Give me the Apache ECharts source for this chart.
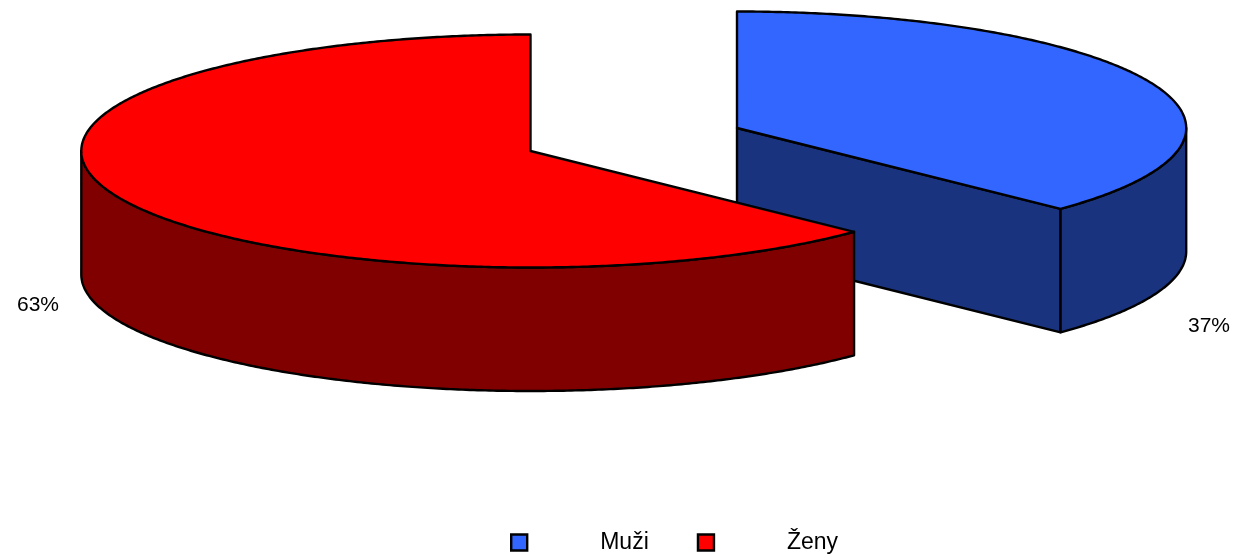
<!DOCTYPE html>
<html>
<head>
<meta charset="utf-8">
<style>html,body{margin:0;padding:0;background:#fff}#c{width:1238px;height:556px}</style>
<script src="https://cdn.jsdelivr.net/npm/echarts@6/dist/echarts.min.js"></script>
</head>
<body>
<div id="c"></div>
<script>
const categories = ['Muži', 'Ženy'];
const values = [37.2, 62.8];
const topColors = ['#3366FF', '#FF0000'];
const sideColors = ['#19337F', '#800000'];
const centers = [[737, 128], [530.5, 151]];
const labelAnchors = [[1209, 326], [38, 305]];
const RX = 449.2, RY = 116.5, DEPTH = 123.5;
const FONT = '"Liberation Sans", Arial, sans-serif';
const total = values.reduce((a, b) => a + b, 0);

function makeRender(idx) {
  const before = values.slice(0, idx).reduce((a, b) => a + b, 0);
  const a0 = before / total * 360;
  const a1 = (before + values[idx]) / total * 360;
  const [cx, cy] = centers[idx];
  const pt = (t, dz) => {
    const r = t * Math.PI / 180;
    return [cx + RX * Math.sin(r), cy - RY * Math.cos(r) + (dz || 0)];
  };
  const arc = (from, to, dz) => {
    const pts = [];
    const n = Math.max(2, Math.ceil(Math.abs(to - from) * 2));
    for (let i = 0; i <= n; i++) pts.push(pt(from + (to - from) * i / n, dz));
    return pts;
  };
  const base = { stroke: '#000', lineWidth: 2.4, lineJoin: 'round' };
  const poly = (points, fill) => ({
    type: 'polygon', shape: { points }, style: Object.assign({ fill }, base)
  });
  return function () {
    const children = [];
    const side = sideColors[idx];
    const faceVisible = t => Math.cos(t * Math.PI / 180) < -1e-6;
    const cut = (t) => {
      const p = pt(t);
      children.push(poly([[cx, cy], p, [p[0], p[1] + DEPTH], [cx, cy + DEPTH]], side));
    };
    if (faceVisible(a0 - 90)) cut(a0);
    if (faceVisible(a1 + 90)) cut(a1);
    const s = Math.max(a0, 90), e = Math.min(a1, 270);
    if (e > s) {
      children.push(poly(arc(s, e, 0).concat(arc(e, s, DEPTH)), side));
    }
    children.push(poly([[cx, cy]].concat(arc(a0, a1, 0)), topColors[idx]));
    children.push({
      type: 'text',
      style: {
        x: labelAnchors[idx][0], y: labelAnchors[idx][1],
        text: Math.round(values[idx]) + '%', fill: '#000',
        font: '21px ' + FONT, textAlign: 'center', textVerticalAlign: 'middle'
      }
    });
    return { type: 'group', children };
  };
}

const chart = echarts.init(document.getElementById('c'), null, { renderer: 'canvas' });
chart.setOption({
  animation: false,
  backgroundColor: '#fff',
  legend: {
    left: 510, top: 531,
    padding: 0,
    itemWidth: 16, itemHeight: 16,
    itemGap: 48,
    icon: 'rect',
    selectedMode: false,
    data: categories,
    textStyle: { color: '#000', fontSize: 23, fontFamily: FONT, padding: [4, 0, 0, 68] },
    itemStyle: { borderColor: '#000', borderWidth: 2.4 }
  },
  series: categories.map((name, i) => ({
    type: 'custom',
    name,
    coordinateSystem: 'none',
    silent: true,
    itemStyle: { color: topColors[i], borderColor: '#000', borderWidth: 2.4 },
    data: [values[i]],
    renderItem: makeRender(i),
    z: i + 1
  }))
});
</script>
</body>
</html>
